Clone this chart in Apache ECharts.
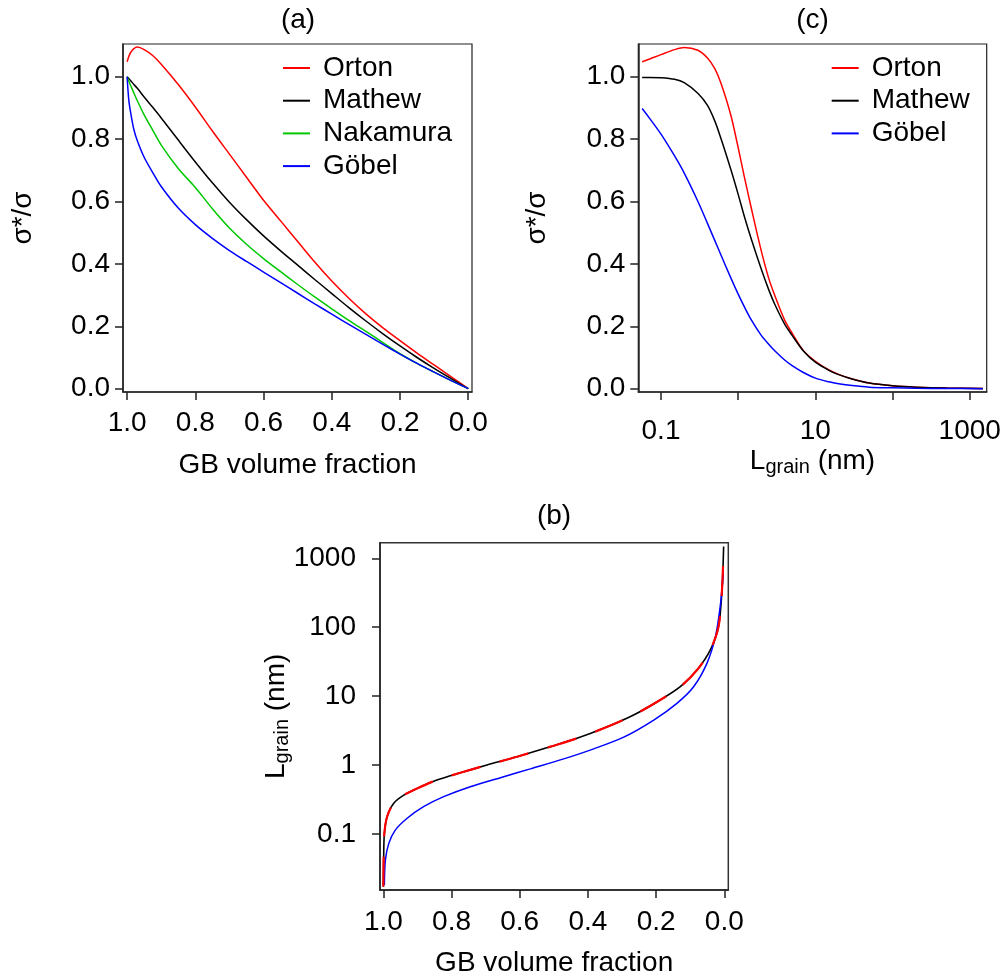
<!DOCTYPE html>
<html>
<head>
<meta charset="utf-8">
<script src="https://cdn.jsdelivr.net/npm/echarts@6/dist/echarts.min.js"></script>
<style>
html, body { margin: 0; padding: 0; background: #fff; }
#main { width: 1005px; height: 979px; }
</style>
</head>
<body>
<div id="main"></div>
<script>
// (a) sigma*/sigma vs GB volume fraction
var fracA = [1.0, 0.995, 0.99, 0.98, 0.97, 0.95, 0.925, 0.9, 0.85, 0.8, 0.75, 0.7, 0.65, 0.6, 0.55, 0.5, 0.45, 0.4, 0.35, 0.3, 0.25, 0.2, 0.15, 0.1, 0.05, 0.0];
var ortonA = [1.048, 1.065, 1.077, 1.090, 1.095, 1.087, 1.068, 1.040, 0.975, 0.903, 0.826, 0.752, 0.678, 0.604, 0.538, 0.472, 0.406, 0.345, 0.290, 0.240, 0.195, 0.154, 0.114, 0.076, 0.038, 0.0];
var mathewA = [1.0, 0.994, 0.988, 0.975, 0.963, 0.935, 0.902, 0.868, 0.797, 0.727, 0.660, 0.598, 0.542, 0.490, 0.442, 0.396, 0.350, 0.305, 0.260, 0.217, 0.176, 0.137, 0.100, 0.065, 0.032, 0.0];
var nakamuraA = [1.0, 0.986, 0.973, 0.948, 0.923, 0.878, 0.829, 0.781, 0.706, 0.645, 0.577, 0.515, 0.463, 0.417, 0.375, 0.334, 0.294, 0.256, 0.219, 0.184, 0.148, 0.112, 0.081, 0.053, 0.026, 0.0];
var gobelA = [1.0, 0.925, 0.888, 0.830, 0.795, 0.742, 0.693, 0.648, 0.579, 0.526, 0.482, 0.443, 0.408, 0.374, 0.340, 0.306, 0.272, 0.239, 0.206, 0.174, 0.142, 0.111, 0.081, 0.053, 0.026, 0.0];

// (c) sigma*/sigma vs grain size (nm)
var lgrainC = [0.057, 0.07, 0.1, 0.15, 0.2, 0.3, 0.4, 0.5, 0.6, 0.8, 1, 1.2, 1.5, 2, 2.5, 3, 4, 5, 7, 10, 15, 20, 30, 50, 100, 200, 500, 1480];
var ortonC = [1.048, 1.056, 1.071, 1.087, 1.094, 1.085, 1.060, 1.025, 0.978, 0.878, 0.773, 0.680, 0.572, 0.440, 0.352, 0.297, 0.220, 0.178, 0.122, 0.088, 0.060, 0.046, 0.031, 0.018, 0.0096, 0.005, 0.002, 0.0008];
var mathewC = [0.998, 0.998, 0.997, 0.992, 0.981, 0.947, 0.908, 0.857, 0.801, 0.704, 0.623, 0.553, 0.475, 0.382, 0.316, 0.269, 0.207, 0.171, 0.121, 0.085, 0.059, 0.045, 0.031, 0.018, 0.0096, 0.005, 0.002, 0.0008];
var gobelC = [0.898, 0.869, 0.816, 0.746, 0.691, 0.601, 0.530, 0.474, 0.428, 0.356, 0.303, 0.263, 0.218, 0.170, 0.142, 0.121, 0.092, 0.074, 0.052, 0.034, 0.022, 0.016, 0.010, 0.005, 0.003, 0.0015, 0.0006, 0.0002];

// (b) grain size vs GB volume fraction (Orton and Mathew coincide)
var fracB = [1.0, 0.999, 0.997, 0.989, 0.97, 0.94, 0.901, 0.843, 0.774, 0.696, 0.608, 0.51, 0.432, 0.354, 0.266, 0.188, 0.129, 0.08, 0.041, 0.017, 0.0068, 0.002];
var lgrainB = [0.0172, 0.047, 0.102, 0.178, 0.278, 0.367, 0.459, 0.607, 0.774, 1.0, 1.32, 1.85, 2.44, 3.41, 5.32, 8.79, 13.7, 23.9, 46.8, 102, 347, 1480];
var fracBGobel = [0.997, 0.994, 0.984, 0.965, 0.931, 0.882, 0.823, 0.745, 0.647, 0.569, 0.471, 0.383, 0.295, 0.207, 0.139, 0.09, 0.051, 0.026, 0.012, 0.003];
var lgrainBGobel = [0.0182, 0.0419, 0.0731, 0.114, 0.168, 0.249, 0.348, 0.485, 0.678, 0.881, 1.23, 1.72, 2.54, 4.50, 7.87, 13.7, 29.9, 72.9, 200, 600];

// tick values
var fracTicks = [0, 0.2, 0.4, 0.6, 0.8, 1.0];
var sigmaTicks = [0, 0.2, 0.4, 0.6, 0.8, 1.0];
var logTicks = [0.1, 1, 10, 100, 1000];
var logLabelsC = [0.1, 10, 1000];

var FONT = '"Liberation Sans", Arial, sans-serif';
var FS = 28;

function zip(xs, ys) {
    return xs.map(function (x, i) { return [x, ys[i]]; });
}

function axis(o) {
    var a = {
        gridIndex: o.grid,
        type: o.type || 'value',
        inverse: !!o.inverse,
        min: o.min,
        max: o.max,
        position: o.position,
        name: o.name,
        nameLocation: 'middle',
        nameGap: o.nameGap,
        nameRotate: o.nameRotate,
        nameMoveOverlap: false,
        nameTextStyle: {
            fontFamily: FONT, fontSize: FS, color: '#000', lineHeight: 28,
            rich: {
                m: { fontFamily: FONT, fontSize: FS, color: '#000' },
                s: { fontFamily: FONT, fontSize: 20, color: '#000', padding: [12, 0, 0, 0] }
            }
        },
        axisLine: { show: true, onZero: false, lineStyle: { color: '#222', width: 1.5 } },
        axisTick: { show: true, inside: false, length: 8, customValues: o.ticks, lineStyle: { color: '#222', width: 1.5 } },
        axisLabel: {
            show: true, margin: o.margin, customValues: o.labels,
            fontFamily: FONT, fontSize: FS, color: '#000', lineHeight: 28,
            formatter: o.formatter
        },
        splitLine: { show: false },
        minorTick: { show: false }
    };
    if (o.type === 'log') a.logBase = 10;
    return a;
}

function fixed1(v) { return Number(v).toFixed(1); }
function plain(v) { return String(+Number(v).toPrecision(6)); }

function line(name, color, xi, data, dash, width, z) {
    var s = {
        name: name,
        type: 'line',
        xAxisIndex: xi,
        yAxisIndex: xi,
        data: data,
        symbol: 'none',
        showSymbol: false,
        smooth: 0.3,
        clip: true,
        z: z || 2,
        lineStyle: { color: color, width: width || 1.5 },
        itemStyle: { color: color },
        emphasis: { disabled: true }
    };
    if (dash) s.lineStyle.type = dash;
    return s;
}

function legend(names, left) {
    return {
        data: names,
        orient: 'vertical', left: left, top: 53, padding: 0, itemGap: 2.7,
        icon: 'rect', itemWidth: 27, itemHeight: 2, selectedMode: false,
        itemStyle: { borderWidth: 0 },
        textStyle: { fontFamily: FONT, fontSize: FS, color: '#000', lineHeight: 30, padding: [0, 0, 0, 8] }
    };
}

function title(text, x, y) {
    return {
        text: text, left: x, top: y, textAlign: 'center', padding: 0,
        textStyle: { fontFamily: FONT, fontSize: FS, fontWeight: 'normal', color: '#000', lineHeight: 28 }
    };
}

var myChart = echarts.init(document.getElementById('main'), null, { renderer: 'canvas' });

var option = {
    backgroundColor: '#fff',
    animation: false,
    title: [
        title('(a)', 298, 6),
        title('(c)', 812.5, 6),
        title('(b)', 554, 502)
    ],
    legend: [
        legend(['Orton', 'Mathew', 'Nakamura', 'Göbel'], 283),
        legend(['Orton', 'Mathew', 'Göbel'], 831.7)
    ],
    grid: [
        { left: 123, top: 44, width: 349, height: 348, show: true, borderColor: '#222', borderWidth: 1.2, backgroundColor: 'transparent', containLabel: false, outerBoundsMode: 'none' },
        { left: 638.3, top: 44, width: 348.4, height: 348, show: true, borderColor: '#222', borderWidth: 1.2, backgroundColor: 'transparent', containLabel: false, outerBoundsMode: 'none' },
        { left: 380, top: 542.7, width: 348.3, height: 347.3, show: true, borderColor: '#333', borderWidth: 1.5, backgroundColor: 'transparent', containLabel: false, outerBoundsMode: 'none' }
    ],
    xAxis: [
        axis({ grid: 0, inverse: true, min: -0.011, max: 1.012, position: 'bottom', ticks: fracTicks, labels: fracTicks, formatter: fixed1, margin: 17, name: 'GB volume fraction', nameGap: 59 }),
        axis({ grid: 1, type: 'log', min: 0.0508, max: 1660, position: 'bottom', ticks: logTicks, labels: logLabelsC, formatter: plain, margin: 25, name: '{m|L}{s|grain}{m| (nm)}', nameGap: 55 }),
        axis({ grid: 2, inverse: true, min: -0.0117, max: 1.0098, position: 'bottom', ticks: fracTicks, labels: fracTicks, formatter: fixed1, margin: 18.7, name: 'GB volume fraction', nameGap: 59 })
    ],
    yAxis: [
        axis({ grid: 0, min: -0.0106, max: 1.105, position: 'left', ticks: sigmaTicks, labels: sigmaTicks, formatter: fixed1, margin: 13, name: 'σ*/σ', nameGap: 86, nameRotate: 90 }),
        axis({ grid: 1, min: -0.0106, max: 1.105, position: 'left', ticks: sigmaTicks, labels: sigmaTicks, formatter: fixed1, margin: 13, name: 'σ*/σ', nameGap: 87, nameRotate: 90 }),
        axis({ grid: 2, type: 'log', min: 0.0154, max: 1683, position: 'left', ticks: logTicks, labels: logTicks, formatter: plain, margin: 24, name: '{m|L}{s|grain}{m| (nm)}', nameGap: 89.5, nameRotate: 90 })
    ],
    series: [
        line('Orton', '#ff0000', 0, zip(fracA, ortonA)),
        line('Mathew', '#000000', 0, zip(fracA, mathewA)),
        line('Nakamura', '#00c800', 0, zip(fracA, nakamuraA)),
        line('Göbel', '#0000ff', 0, zip(fracA, gobelA)),

        line('Orton', '#ff0000', 1, zip(lgrainC, ortonC)),
        line('Mathew', '#000000', 1, zip(lgrainC, mathewC)),
        line('Göbel', '#0000ff', 1, zip(lgrainC, gobelC)),

        line('Mathew', '#000000', 2, zip(fracB, lgrainB), null, 1.6, 2),
        line('Orton', '#ff0000', 2, zip(fracB, lgrainB), [30, 20], 2.2, 4),
        line('Göbel', '#0000ff', 2, zip(fracBGobel, lgrainBGobel))
    ]
};

myChart.setOption(option);
</script>
</body>
</html>
